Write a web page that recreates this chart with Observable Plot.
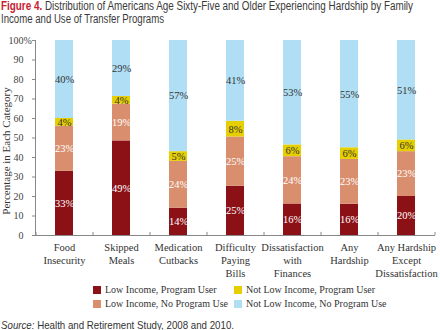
<!DOCTYPE html>
<html><head><meta charset="utf-8">
<script src="https://cdn.jsdelivr.net/npm/d3@7"></script>
<script src="https://cdn.jsdelivr.net/npm/@observablehq/plot@0.6"></script>
<style>
body{margin:0;width:440px;height:330px;overflow:hidden;background:#fff;position:relative}
#title{position:absolute;left:0;top:0}
#chart{position:absolute;left:0;top:30px}
#ylabel{position:absolute;left:6px;top:151px;transform:translate(-50%,-50%) rotate(-90deg);font-family:"Liberation Serif",serif;font-size:11px;line-height:12px;color:#333;white-space:nowrap}
#legend{position:absolute;left:0;top:284px;width:440px;font-family:"Liberation Serif",serif;font-size:10px;color:#333}
.item{position:absolute;white-space:nowrap;line-height:12px}
.sw{display:inline-block;width:8px;height:8px;margin-right:4px;vertical-align:-0.5px}
#source{position:absolute;left:0;top:314px}
</style></head><body>
<svg id="title" width="440" height="28" font-family="'Liberation Sans',Arial,sans-serif" font-size="12" fill="#3a3a3a">
  <text x="1" y="10" textLength="412" lengthAdjust="spacingAndGlyphs"><tspan fill="#c8202f" font-weight="bold">Figure 4.</tspan> Distribution of Americans Age Sixty-Five and Older Experiencing Hardship by Family</text>
  <text x="1" y="22.5" textLength="163" lengthAdjust="spacingAndGlyphs">Income and Use of Transfer Programs</text>
</svg>
<div id="chart"></div>
<div id="ylabel">Percentage in Each Category</div>
<div id="legend"></div>
<svg id="source" width="440" height="16" font-family="'Liberation Sans',Arial,sans-serif" font-size="11" fill="#333">
  <text x="1" y="14.5" textLength="233" lengthAdjust="spacingAndGlyphs"><tspan font-style="italic">Source:</tspan> Health and Retirement Study, 2008 and 2010.</text>
</svg>
<script>
const categories = ["Food\nInsecurity","Skipped\nMeals","Medication\nCutbacks","Difficulty\nPaying\nBills","Dissatisfaction\nwith\nFinances","Any\nHardship","Any Hardship\nExcept\nDissatisfaction"];
const seriesNames = ["Low Income, Program User","Low Income, No Program Use","Not Low Income, Program User","Not Low Income, No Program Use"];
const lowProgram = [33,49,14,25,16,16,20];
const lowNoProgram = [23,19,24,25,24,23,23];
const notLowProgram = [4,4,5,8,6,6,6];
const notLowNoProgram = [40,29,57,41,53,55,51];
const seriesColors = ["#8c1117","#d98f6e","#e6cf00","#b0def4"];
const yTicks = [0,10,20,30,40,50,60,70,80,90,100];

const seriesValues = [lowProgram, lowNoProgram, notLowProgram, notLowNoProgram];
const data = [];
seriesNames.forEach((s, si) => categories.forEach((c, ci) => data.push({cat: c, series: s, si, value: seriesValues[si][ci]})));

const stackOpts = {x: "cat", y: "value", z: "series", offset: "normalize", order: seriesNames};

const plot = Plot.plot({
  width: 440, height: 250,
  marginLeft: 35, marginRight: 5, marginTop: 10, marginBottom: 45,
  style: {fontFamily: "'Liberation Serif', serif", fontSize: "10px", color: "#444", background: "transparent"},
  x: {domain: categories, paddingInner: 0.684, paddingOuter: 0.342, label: null},
  y: {domain: [0, 1], label: null},
  color: {domain: seriesNames, range: seriesColors},
  marks: [
    Plot.barY(data, Plot.stackY({...stackOpts, fill: "series", inset: 0})),
    Plot.text(data, Plot.stackY({...stackOpts, text: d => d.si < 2 ? d.value + "%" : "", fill: "#fff", fontSize: 10.5})),
    Plot.text(data, Plot.stackY({...stackOpts, text: d => d.si >= 2 ? d.value + "%" : "", fill: "#333", fontSize: 10.5})),
    Plot.axisY({ticks: yTicks.map(v => v / 100), tickFormat: d => String(Math.round(d * 100)), tickSize: 3, tickPadding: 9, stroke: "#888", fill: "#444", label: null}),
    Plot.text([1], {y: d => d, text: () => "%", frameAnchor: "left", dx: -12, textAnchor: "start", fill: "#444"}),
    Plot.axisX({tickSize: 0, tickPadding: 7, fill: "#333", fontSize: 10.5, lineHeight: 1.2, label: null}),
    Plot.ruleY([0], {stroke: "#888"}),
    Plot.frame({anchor: "left", stroke: "#888"}),
    Plot.ruleX(categories, {x: d => d, dx: 28.5, y1: 0, y2: 0.016, stroke: "#888"}),
    Plot.ruleX([categories[0]], {x: d => d, dx: -28.5, y1: 0, y2: 0.016, stroke: "#888"})
  ]
});
document.getElementById("chart").appendChild(plot);

const legend = document.getElementById("legend");
const legendPos = [[93, 0], [93, 14], [234, 0], [234, 14]];
seriesNames.forEach((s, i) => {
  const el = document.createElement("div");
  el.className = "item";
  el.style.left = legendPos[i][0] + "px";
  el.style.top = legendPos[i][1] + "px";
  el.innerHTML = `<span class="sw" style="background:${seriesColors[i]}"></span>${s}`;
  legend.appendChild(el);
});
</script>
</body></html>
